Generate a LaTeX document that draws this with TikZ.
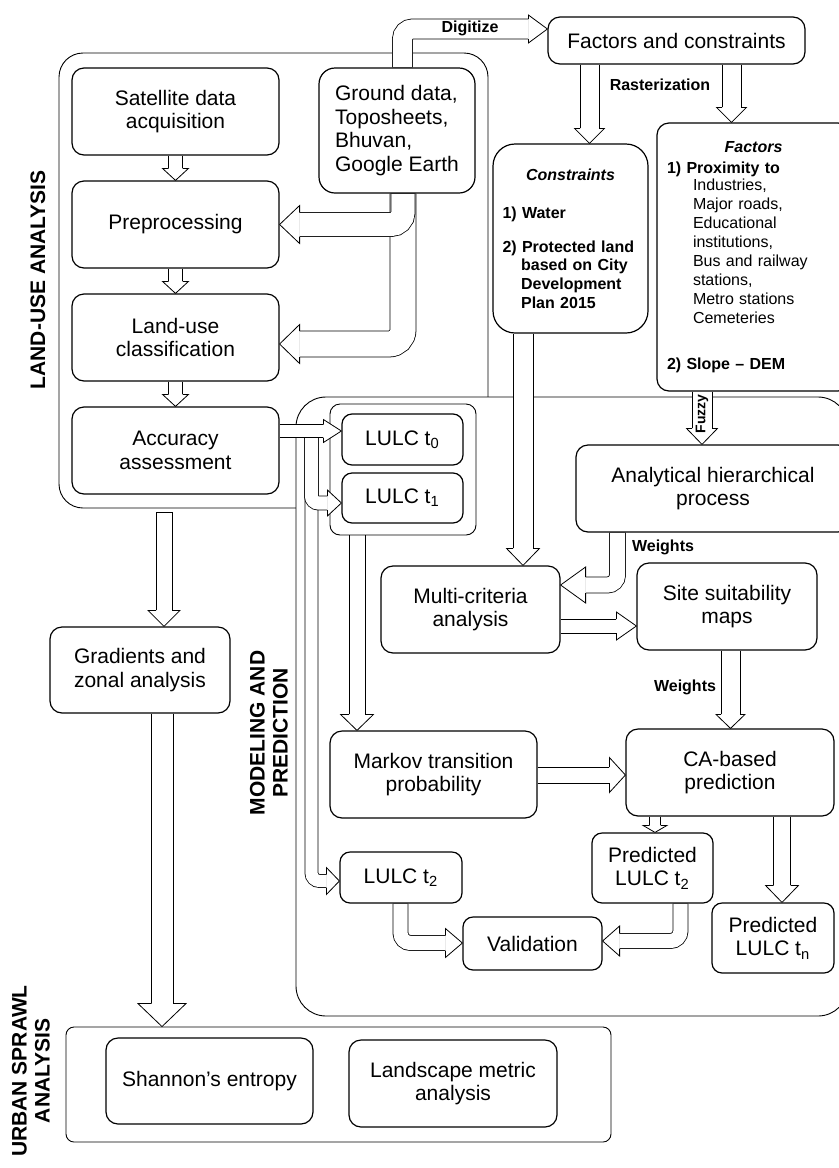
\documentclass[tikz,border=0pt]{standalone}
\usepackage{fontspec}
\setmainfont{Liberation Sans}
\usetikzlibrary{calc}

\newcommand{\hollowarrow}[5]{%
  \pgfmathsetmacro{\arss}{#1*0.25}%
  \pgfmathsetmacro{\arhw}{#2*0.25}%
  \pgfmathsetmacro{\arhl}{#3*0.5}%
  \coordinate (hb) at ($(#5)!\arhl pt!(#4)$);
  \coordinate (ha) at ($(#4)!0.3pt!(hb)$);
  \fill[white] ($(ha)!\arss pt!90:(hb)$) -- ($(hb)!\arss pt!-90:(ha)$) -- ($(hb)!\arss pt!90:(ha)$)
    -- ($(ha)!\arss pt!-90:(hb)$) -- cycle;
  \draw[line width=0.4pt] ($(#4)!\arss pt!90:(hb)$) -- ($(hb)!\arss pt!-90:(#4)$);
  \draw[line width=0.4pt] ($(#4)!\arss pt!-90:(hb)$) -- ($(hb)!\arss pt!90:(#4)$);
  \filldraw[fill=white, line width=0.4pt] ($(hb)!\arss pt!90:(#5)$) -- ($(hb)!\arhw pt!90:(#5)$) -- (#5)
    -- ($(hb)!\arhw pt!-90:(#5)$) -- ($(hb)!\arss pt!-90:(#5)$);
}

\newcommand{\bentarrow}[7][]{%
  \pgfmathsetmacro{\arsw}{#2*0.5}%
  \pgfmathsetmacro{\arss}{#2*0.25}%
  \pgfmathsetmacro{\arhw}{#3*0.25}%
  \pgfmathsetmacro{\arhl}{#4*0.5}%
  \coordinate (hb) at ($(#7)!\arhl pt!(#6)$);
  \draw[line width=\arsw pt+0.4pt, #1] (#5) |- (hb);
  \draw[white, line width=\arsw pt-0.4pt, shorten <=0.3pt, #1] (#5) |- (hb);
  \filldraw[fill=white, line width=0.4pt] ($(hb)!\arss pt!90:(#7)$) -- ($(hb)!\arhw pt!90:(#7)$) -- (#7)
    -- ($(hb)!\arhw pt!-90:(#7)$) -- ($(hb)!\arss pt!-90:(#7)$);
}

\begin{document}
\begin{tikzpicture}[x=0.5pt, y=-0.5pt,
    box/.style={rectangle, draw, line width=0.6pt, rounded corners=6pt, inner sep=0pt, align=center,
      minimum width=103.5pt, minimum height=43.5pt, font=\fontsize{10.5}{11.8}\selectfont},
    frame/.style={rectangle, draw, line width=0.45pt, inner sep=0pt},
    tag/.style={font=\fontsize{8}{9}\selectfont\bfseries, inner sep=0pt},
    side/.style={font=\fontsize{10.5}{11.5}\selectfont\bfseries, rotate=90, align=center, inner sep=0pt}]

    \useasboundingbox (0,0) rectangle (839,1168);
    \clip (0,0) rectangle (839,1168);

    \node[frame, rounded corners=12pt, minimum width=214.5pt, minimum height=227.5pt] (LUA) at (273.5,280.5) {};
    \node[frame, rounded corners=15pt, fill=white, minimum width=276pt, minimum height=309.5pt] (MP) at (572,706.5) {};
    \node[frame, rounded corners=5pt, minimum width=73pt, minimum height=65.5pt] (LG) at (403,469.5) {};
    \node[frame, rounded corners=4pt, minimum width=272.5pt, minimum height=57.5pt] (USA) at (338.5,1084.5) {};

    \node[box] (SAT) at (175.5,111.5) {Satellite data\\acquisition};
    \node[box, below of=SAT, node distance=56.5pt] (PRE) {Preprocessing};
    \node[box, below of=PRE, node distance=56.5pt] (LUC) {Land-use\\classification};
    \node[box, below of=LUC, node distance=56.5pt] (ACC) {Accuracy\\assessment};
    \node[box, rounded corners=8pt, minimum width=78pt, minimum height=62.5pt, align=left] (GD) at (397,130.5)
      {Ground data,\\Toposheets,\\Bhuvan,\\Google Earth};
    \node[box, minimum width=128.5pt, minimum height=23.5pt] (FC) at (676.5,40.5) {Factors and constraints};
    \node[box, rounded corners=11pt, minimum width=77.5pt, minimum height=94.5pt, text width=68pt, align=left,
      font=\fontsize{8}{9.35}\selectfont\bfseries] (CON) at (570.5,238.5)
      {{\centering\itshape Constraints\par}\vspace{9.65pt}
       1) Water\par\vspace{7.65pt}
       2) Protected land\par
       {\leftskip=9.3pt based on City\\Development\\Plan 2015\par}};
    \node[box, minimum width=96.5pt, minimum height=134pt, text width=86.5pt, align=left,
      font=\fontsize{8}{9.5}\selectfont] (FAC) at (753.5,257)
      {{\centering\bfseries\itshape Factors\par}\vspace{1pt}
       \textbf{1) Proximity to}\par\vspace{-1pt}
       {\leftskip=13pt Industries,\\Major roads,\\Educational\\institutions,\\Bus and railway\\stations,\\Metro stations\\Cemeteries\par}
       \vspace{13.5pt}\textbf{2) Slope -- DEM}\par};
    \node[box, minimum width=137pt] (AHP) at (713,488.5) {Analytical hierarchical\\process};
    \node[box, rounded corners=5pt, minimum width=60.5pt, minimum height=25.5pt] (T0) at (402.5,439.5) {LULC t\textsubscript{0}};
    \node[box, rounded corners=5pt, minimum width=60.5pt, minimum height=25pt] (T1) at (402.5,498) {LULC t\textsubscript{1}};
    \node[box, minimum width=90pt, minimum height=43pt] (GZA) at (140,670) {Gradients and\\zonal analysis};
    \node[box, minimum width=89.5pt] (MCA) at (470.5,609.5) {Multi-criteria\\analysis};
    \node[box, minimum width=90pt] (SSM) at (727,606.5) {Site suitability\\maps};
    \node[box] (MTP) at (433.5,774.5) {Markov transition\\probability};
    \node[box, minimum width=104pt] (CA) at (730,772.5) {CA-based\\prediction};
    \node[box, rounded corners=5pt, minimum width=61pt, minimum height=25.5pt] (T2) at (401,877.5) {LULC t\textsubscript{2}};
    \node[box, rounded corners=5pt, minimum width=60.5pt, minimum height=35pt] (PT2) at (652.5,868) {Predicted\\LULC t\textsubscript{2}};
    \node[box, rounded corners=5pt, minimum width=61pt, minimum height=35pt] (PTN) at (773,938) {Predicted\\LULC t\textsubscript{n}};
    \node[box, rounded corners=5pt, minimum width=69.5pt, minimum height=26.5pt] (VAL) at (532.5,943.5) {Validation};
    \node[box, minimum height=43pt] (SE) at (209.5,1081) {Shannon’s entropy};
    \node[box, minimum width=104pt] (LMA) at (453,1083.5) {Landscape metric\\analysis};

    \coordinate (dg) at (402.5,29);
    \coordinate (gx) at (403,0);
    \coordinate (gl) at (0,344);
    \coordinate (r1) at (589.5,0);
    \coordinate (r2) at (731.5,0);
    \coordinate (fz) at (702,0);
    \coordinate (cm) at (523,0);
    \coordinate (aw) at (617.5,585);
    \coordinate (ms) at (0,626);
    \coordinate (sc) at (730.5,0);
    \coordinate (gm) at (357,0);
    \coordinate (mk) at (0,775);
    \coordinate (cp) at (655,0);
    \coordinate (cn) at (782,0);
    \coordinate (lv) at (400.5,943);
    \coordinate (pv) at (680.5,941);
    \coordinate (al) at (0,431);
    \coordinate (br) at (311.5,431);
    \coordinate (b1) at (0,503);
    \coordinate (b2) at (0,881);
    \coordinate (ga) at (164,512);
    \coordinate (gu) at (162,0);

    \hollowarrow{14}{26}{12}{SAT.south}{PRE.north}
    \hollowarrow{14}{26}{12}{PRE.south}{LUC.north}
    \hollowarrow{14}{26}{12}{LUC.south}{ACC.north}
    \bentarrow[rounded corners=7pt]{26}{39}{20}{GD.south -| gx}{gx |- gl}{LUC.east |- gl}
    \bentarrow[rounded corners=6pt]{24}{38}{20}{GD.south -| gx}{gx |- PRE.east}{PRE.east}
    \bentarrow[rounded corners=5pt]{20}{28}{19}{GD.north -| dg}{dg}{FC.west |- dg}
    \hollowarrow{19}{30}{15}{FC.south -| r1}{CON.north -| r1}
    \hollowarrow{19}{30}{15}{FC.south -| r2}{FAC.north -| r2}
    \hollowarrow{20}{31}{16}{FAC.south -| fz}{AHP.north -| fz}
    \hollowarrow{20}{33}{17}{CON.south -| cm}{MCA.north -| cm}
    \bentarrow[rounded corners=5pt]{16}{36}{25}{AHP.south -| aw}{aw}{MCA.east |- aw}
    \hollowarrow{14}{28}{20}{MCA.east |- ms}{SSM.west |- ms}
    \hollowarrow{19}{29}{14}{SSM.south -| sc}{CA.north -| sc}
    \hollowarrow{16}{33}{16}{LG.south -| gm}{MTP.north -| gm}
    \hollowarrow{16}{35}{16}{MTP.east |- mk}{CA.west |- mk}
    \hollowarrow{11}{24}{7}{CA.south -| cp}{PT2.north -| cp}
    \hollowarrow{17}{33}{17}{CA.south -| cn}{PTN.north -| cn}
    \bentarrow[rounded corners=5pt]{15}{29}{17}{T2.south -| lv}{lv}{VAL.west |- lv}
    \bentarrow[rounded corners=5pt]{15}{30}{17}{PT2.south -| pv}{pv}{VAL.east |- pv}
    \bentarrow[rounded corners=4pt]{13}{27}{13}{br}{br |- b2}{T2.west |- b2}
    \bentarrow[rounded corners=3.5pt]{14}{26}{14}{br}{br |- b1}{T1.west |- b1}
    \hollowarrow{13}{23}{18}{ACC.east |- al}{T0.west |- al}
    \hollowarrow{16}{32}{16}{ga}{GZA.north -| ga}
    \draw[line width=0.4pt] ($(ga)+(-8,0)$) -- ($(ga)+(8,0)$);
    \hollowarrow{22}{48}{23}{GZA.south -| gu}{USA.north -| gu}

    \node[tag] (DG) at (470,28) {Digitize};
    \node[tag] (RS) at (660,85) {Rasterization};
    \node[tag, rotate=90, font=\fontsize{7}{8}\selectfont\bfseries] (FZ) at (702,414) {Fuzzy};
    \node[tag] (W1) at (663,547) {Weights};
    \node[tag] (W2) at (685,687) {Weights};

    \node[side] (LUL) at (38,280) {LAND-USE ANALYSIS};
    \node[side] (MPL) at (269,733) {MODELING AND\\PREDICTION};
    \node[side] (USL) at (31,1071) {URBAN SPRAWL\\ANALYSIS};
\end{tikzpicture}
\end{document}
